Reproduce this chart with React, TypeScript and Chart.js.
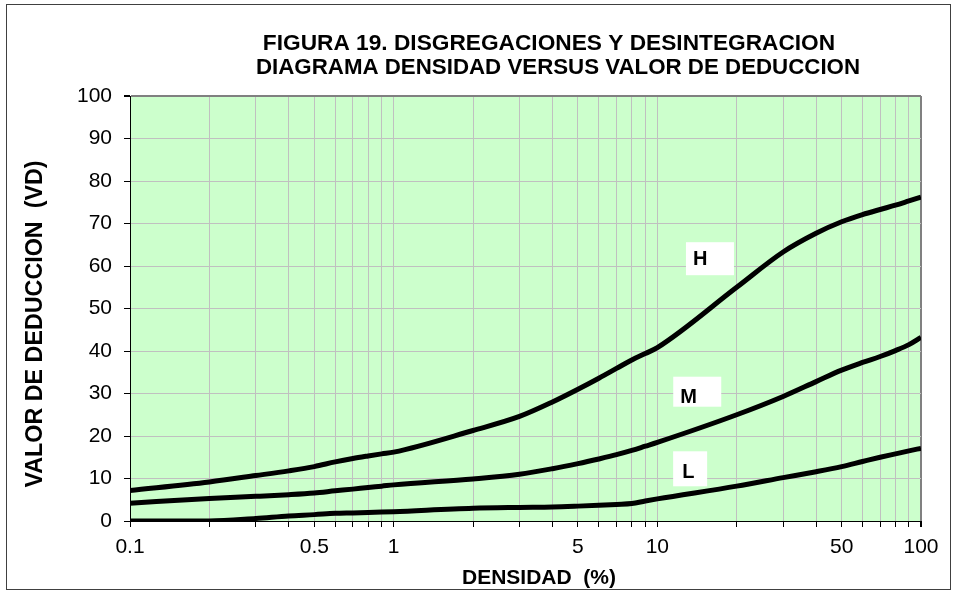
import React, { useEffect, useRef } from "react";
import { Chart, registerables } from "chart.js";

Chart.register(...registerables);

// ---------- DATA ----------
const density = [0.1, 0.2, 0.3, 0.4, 0.5, 0.6, 0.7, 0.8, 0.9, 1, 2, 3, 4, 5, 6, 7, 8, 9, 10, 20, 30, 40, 50, 60, 70, 80, 90, 100];
const hValues = [7.2, 9.2, 10.7, 11.8, 12.8, 13.9, 14.7, 15.3, 15.8, 16.2, 21.3, 24.6, 28, 31, 33.6, 35.9, 37.9, 39.4, 40.8, 55, 63.3, 67.7, 70.4, 72.1, 73.3, 74.3, 75.3, 76.2];
const mValues = [4.2, 5.3, 5.8, 6.2, 6.6, 7.1, 7.5, 7.9, 8.2, 8.5, 9.9, 11, 12.3, 13.5, 14.6, 15.6, 16.6, 17.6, 18.5, 25, 29.3, 32.8, 35.5, 37.3, 38.7, 40.1, 41.5, 43.2];
const lValues = [0, 0, 0.6, 1.2, 1.5, 1.8, 1.9, 2.0, 2.1, 2.2, 3.0, 3.2, 3.3, 3.5, 3.7, 3.9, 4.1, 4.7, 5.2, 8.2, 10.2, 11.6, 12.8, 14, 15, 15.8, 16.5, 17.1];

const xGridValues = [0.1, 0.2, 0.3, 0.4, 0.5, 0.6, 0.7, 0.8, 0.9, 1, 2, 3, 4, 5, 6, 7, 8, 9, 10, 20, 30, 40, 50, 60, 70, 80, 90, 100];
const xTickValues = [0.1, 0.5, 1, 5, 10, 50, 100];
const xTickLabels = ["0.1", "0.5", "1", "5", "10", "50", "100"];

const curveLabels = ["H", "M", "L"];
const curveLabelX = [12.84, 11.49, 11.48];
const curveLabelY = [65.6, 33.95, 16.4];

const titleLines = ["FIGURA 19. DISGREGACIONES Y DESINTEGRACION", "DIAGRAMA DENSIDAD VERSUS VALOR DE DEDUCCION"];
const xAxisTitle = "DENSIDAD  (%)";
const yAxisTitle = "VALOR DE DEDUCCION  (VD)";

// ---------- STYLE ----------
const FONT = "'Liberation Sans', Arial, sans-serif";
const labelBoxStyle = [
  { w: 48, h: 33, tx: 7, ty: 16.5 },
  { w: 48, h: 30, tx: 7, ty: 20 },
  { w: 34, h: 35, tx: 9, ty: 20.4 },
];

const decorPlugin = {
  id: "decor",
  beforeDraw(chart: any) {
    const { ctx, chartArea } = chart;
    ctx.save();
    ctx.fillStyle = "#ffffff";
    ctx.fillRect(0, 0, chart.width, chart.height);
    ctx.fillStyle = "#CCFFCC";
    ctx.fillRect(chartArea.left, chartArea.top, chartArea.right - chartArea.left, chartArea.bottom - chartArea.top);
    ctx.restore();
  },
  afterDraw(chart: any) {
    const { ctx, scales } = chart;
    ctx.save();
    // outer frame
    ctx.strokeStyle = "#404040";
    ctx.lineWidth = 1;
    ctx.strokeRect(6.5, 4.5, 944, 585);

    // title
    ctx.fillStyle = "#000";
    ctx.textAlign = "center";
    ctx.textBaseline = "alphabetic";
    ctx.font = `bold 22.7px ${FONT}`;
    ctx.fillText(titleLines[0], 549, 49.5);
    ctx.font = `bold 22.3px ${FONT}`;
    ctx.fillText(titleLines[1], 558, 73.5);

    // x axis title
    ctx.font = `bold 21px ${FONT}`;
    ctx.fillText(xAxisTitle, 539, 583.5);

    // y axis title
    ctx.save();
    ctx.font = `bold 23.3px ${FONT}`;
    ctx.translate(42, 324);
    ctx.rotate(-Math.PI / 2);
    ctx.fillText(yAxisTitle, 0, 0);
    ctx.restore();

    // curve labels
    ctx.textAlign = "left";
    ctx.textBaseline = "middle";
    curveLabels.forEach((t, i) => {
      const s = labelBoxStyle[i];
      const px = scales.x.getPixelForValue(curveLabelX[i]);
      const py = scales.y.getPixelForValue(curveLabelY[i]);
      ctx.fillStyle = "#ffffff";
      ctx.fillRect(px, py, s.w, s.h);
      ctx.fillStyle = "#000";
      ctx.font = `bold 20px ${FONT}`;
      ctx.fillText(t, px + s.tx, py + s.ty + 1);
    });
    ctx.restore();
  },
};

function tickLabelFor(v: number): string {
  for (let i = 0; i < xTickValues.length; i++) {
    if (Math.abs(Math.log10(v) - Math.log10(xTickValues[i])) < 1e-6) return xTickLabels[i];
  }
  return "";
}

export default function App() {
  const ref = useRef<HTMLCanvasElement | null>(null);

  useEffect(() => {
    if (!ref.current) return;
    const mk = (vals: number[]) => density.map((x, i) => ({ x, y: vals[i] }));
    const ds = (label: string, vals: number[]) => ({
      label,
      data: mk(vals),
      borderColor: "#000000",
      backgroundColor: "#000000",
      borderWidth: 5,
      pointRadius: 0,
      fill: false,
      cubicInterpolationMode: "monotone" as const,
    });
    const chart = new Chart(ref.current, {
      type: "line",
      data: {
        datasets: [ds("H", hValues), ds("M", mValues), ds("L", lValues)],
      },
      options: {
        animation: false,
        responsive: false,
        devicePixelRatio: 1,
        layout: { padding: { left: 0, top: 96, right: 32, bottom: 0 } },
        plugins: {
          legend: { display: false },
          tooltip: { enabled: false },
          title: { display: false },
        },
        scales: {
          x: {
            type: "logarithmic",
            min: 0.1,
            max: 100,
            afterBuildTicks: (s: any) => {
              s.ticks = xGridValues.map((v) => ({ value: v }));
            },
            afterFit: (s: any) => {
              s.height = 72;
            },
            ticks: {
              autoSkip: false,
              maxRotation: 0,
              minRotation: 0,
              padding: 8,
              color: "#000",
              font: { family: FONT, size: 21 },
              callback: (v: any) => tickLabelFor(Number(v)),
            },
            grid: {
              color: (c: any) => (c.tick && Math.abs(c.tick.value - 100) < 1e-6 ? "#808080" : "#c0c0c0"),
              lineWidth: (c: any) => (c.tick && Math.abs(c.tick.value - 100) < 1e-6 ? 2 : 1),
              tickColor: "#000",
              tickLength: 6,
              drawTicks: true,
            },
            border: { color: "#000", width: 1 },
          },
          y: {
            type: "linear",
            min: 0,
            max: 100,
            afterFit: (s: any) => {
              s.width = 130;
            },
            ticks: {
              stepSize: 10,
              padding: 12,
              color: "#000",
              font: { family: FONT, size: 21 },
            },
            grid: {
              color: (c: any) => (c.tick && c.tick.value === 100 ? "#808080" : "#c0c0c0"),
              lineWidth: (c: any) => (c.tick && c.tick.value === 100 ? 2 : 1),
              tickColor: "#000",
              tickLength: 6,
              drawTicks: true,
            },
            border: { color: "#000", width: 1 },
          },
        },
      },
      plugins: [decorPlugin],
    });
    return () => chart.destroy();
  }, []);

  return (
    <div style={{ position: "absolute", left: 0, top: 0, width: 953, height: 593 }}>
      <canvas ref={ref} width={953} height={593} style={{ display: "block", width: 953, height: 593 }} />
    </div>
  );
}
